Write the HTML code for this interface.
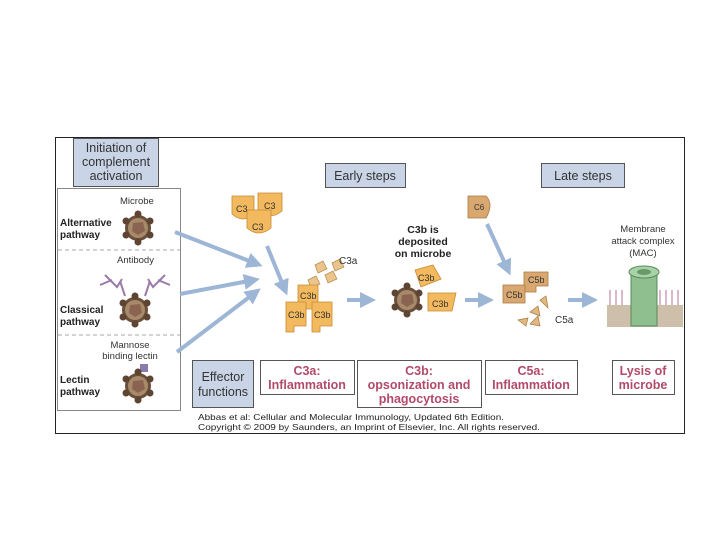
<!DOCTYPE html>
<html><head><style>
html,body{margin:0;padding:0;background:#fff;width:720px;height:540px;overflow:hidden}
svg{display:block}
text{font-family:"Liberation Sans",sans-serif}
</style></head><body>
<svg width="720" height="540" viewBox="0 0 720 540">
<defs>
<marker id="ah" markerWidth="4" markerHeight="4" refX="2.5" refY="2" orient="auto" markerUnits="strokeWidth">
<path d="M0,0 L4,2 L0,4 Z" fill="#9db6d6"/></marker>
<g id="mic"><circle r="13" fill="#6b4f3a"/>
<g fill="#5e4432"><circle cx="0" cy="-14" r="3.5"/><circle cx="12" cy="-7" r="3.5"/><circle cx="12" cy="7" r="3.5"/><circle cx="0" cy="14" r="3.5"/><circle cx="-12" cy="7" r="3.5"/><circle cx="-12" cy="-7" r="3.5"/></g>
<circle r="10" fill="#a68a6a"/><polygon points="-5,-5 5,-6 7,3 0,7 -6,3" fill="#8a6450"/></g>
<g id="frag"><path d="M0,0 l8,-4 l4,8 l-9,4z" fill="#e9c58d" stroke="#b88a4a" stroke-width="0.7"/></g>
</defs>
<rect x="55.5" y="137.5" width="629" height="296" fill="#fff" stroke="#222" stroke-width="1"/>
<rect x="57.5" y="188.5" width="123" height="222" fill="#fff" stroke="#888"/>
<line x1="58" y1="250" x2="180" y2="250" stroke="#aaa" stroke-dasharray="4,3"/>
<line x1="58" y1="335" x2="180" y2="335" stroke="#aaa" stroke-dasharray="4,3"/>
<rect x="73.5" y="138.5" width="85" height="48" fill="#c9d5e6" stroke="#555"/>
<text font-size="12.5" fill="#333" text-anchor="middle"><tspan x="116" y="152">Initiation of</tspan><tspan x="116" y="166">complement</tspan><tspan x="116" y="180">activation</tspan></text>
<text font-size="9.5" fill="#333" x="120" y="204">Microbe</text>
<text font-size="10" font-weight="bold" fill="#222"><tspan x="60" y="226">Alternative</tspan><tspan x="60" y="238">pathway</tspan></text>
<use href="#mic" x="138" y="228"/>
<text font-size="9.5" fill="#333" x="117" y="263">Antibody</text>
<g stroke="#9a7aa8" stroke-width="2" fill="none">
<path d="M105,275 l12,12 l5,-8 M100,285 l12,-5 M125,296 l-5,-15"/>
<path d="M165,275 l-12,12 l-5,-8 M170,285 l-12,-5 M145,296 l5,-15"/>
</g>
<use href="#mic" x="135" y="310"/>
<text font-size="10" font-weight="bold" fill="#222"><tspan x="60" y="313">Classical</tspan><tspan x="60" y="325">pathway</tspan></text>
<text font-size="9.5" fill="#333" text-anchor="middle"><tspan x="130" y="348">Mannose</tspan><tspan x="130" y="359">binding lectin</tspan></text>
<rect x="140" y="364" width="8" height="8" fill="#8a7ab0"/>
<use href="#mic" x="138" y="386"/>
<text font-size="10" font-weight="bold" fill="#222"><tspan x="60" y="383">Lectin</tspan><tspan x="60" y="395">pathway</tspan></text>
<rect x="325.5" y="163.5" width="80" height="24" fill="#c9d5e6" stroke="#555"/>
<text x="365" y="180" font-size="12.5" fill="#333" text-anchor="middle">Early steps</text>
<rect x="541.5" y="163.5" width="83" height="24" fill="#c9d5e6" stroke="#555"/>
<text x="583" y="180" font-size="12.5" fill="#333" text-anchor="middle">Late steps</text>
<g stroke="#9db6d6" stroke-width="4" fill="none" marker-end="url(#ah)">
<line x1="175" y1="232" x2="257" y2="264"/>
<line x1="180" y1="294" x2="254" y2="280"/>
<line x1="177" y1="352" x2="256" y2="292"/>
<line x1="267" y1="246" x2="285" y2="290"/>
<line x1="347" y1="300" x2="370" y2="300"/>
<line x1="465" y1="300" x2="488" y2="300"/>
<line x1="487" y1="224" x2="508" y2="270"/>
<line x1="568" y1="300" x2="592" y2="300"/>
</g>
<g fill="#f3b95f" stroke="#c88a30" stroke-width="0.8">
<path d="M232,196 h22 v18 q-11,10 -22,0z"/><path d="M258,193 h24 v18 q-12,10 -24,0z"/><path d="M247,210 h24 v18 q-12,10 -24,0z"/>
</g>
<text font-size="9" fill="#333"><tspan x="236" y="212">C3</tspan><tspan x="264" y="209">C3</tspan><tspan x="252" y="230">C3</tspan></text>
<use href="#frag" x="315" y="265"/><use href="#frag" x="325" y="275"/><use href="#frag" x="308" y="280"/><use href="#frag" x="332" y="263"/>
<text x="339" y="264" font-size="10" fill="#333">C3a</text>
<g fill="#f3b95f" stroke="#c88a30" stroke-width="0.8">
<path d="M298,285 h20 v24 h-12 v6 h-8z"/><path d="M286,302 h20 v24 h-12 v6 h-8z"/><path d="M312,302 h20 v24 h-12 v6 h-8z"/>
</g>
<text font-size="9" fill="#333"><tspan x="300" y="299">C3b</tspan><tspan x="288" y="318">C3b</tspan><tspan x="314" y="318">C3b</tspan></text>
<text font-size="10.5" font-weight="bold" fill="#222" text-anchor="middle"><tspan x="423" y="233">C3b is</tspan><tspan x="423" y="245">deposited</tspan><tspan x="423" y="257">on microbe</tspan></text>
<use href="#mic" x="407" y="300"/>
<g fill="#f3b95f" stroke="#c88a30" stroke-width="0.8">
<path d="M415,270 l18,-5 l8,14 l-20,8z"/><path d="M428,293 h28 l-4,18 h-24z"/>
</g>
<text font-size="9" fill="#333"><tspan x="418" y="281">C3b</tspan><tspan x="432" y="307">C3b</tspan></text>
<path d="M468,196 h18 q8,8 0,22 h-18z" fill="#d9a870" stroke="#a87a40" stroke-width="0.8"/>
<text x="474" y="210" font-size="8" fill="#333">C6</text>
<g fill="#d9a870" stroke="#a87a40" stroke-width="0.8">
<path d="M524,272 h24 v14 h-12 v6 h-12z"/><path d="M503,285 h22 v18 h-22z"/>
</g>
<text font-size="9" fill="#333"><tspan x="528" y="283">C5b</tspan><tspan x="506" y="298">C5b</tspan></text>
<g fill="#e0b880" stroke="#a87a40" stroke-width="0.7">
<path d="M530,312 l8,-6 l2,10z"/><path d="M540,300 l6,-4 l2,12z"/><path d="M518,320 l10,-2 l-2,8z"/><path d="M530,324 l8,-8 l2,10z"/>
</g>
<text x="555" y="323" font-size="10" fill="#333">C5a</text>
<text font-size="9.5" fill="#333" text-anchor="middle"><tspan x="643" y="232">Membrane</tspan><tspan x="643" y="244">attack complex</tspan><tspan x="643" y="256">(MAC)</tspan></text>
<rect x="607" y="305" width="76" height="22" fill="#cdbfaa"/>
<g stroke="#d9b8c8" stroke-width="2"><line x1="610" y1="290" x2="610" y2="305"/><line x1="616" y1="290" x2="616" y2="305"/><line x1="622" y1="290" x2="622" y2="305"/><line x1="660" y1="290" x2="660" y2="305"/><line x1="666" y1="290" x2="666" y2="305"/><line x1="672" y1="290" x2="672" y2="305"/><line x1="678" y1="290" x2="678" y2="305"/></g>
<rect x="631" y="272" width="26" height="54" fill="#8fbf8f" stroke="#5a8a5a"/>
<ellipse cx="644" cy="272" rx="15" ry="6" fill="#a8d2a8" stroke="#5a8a5a"/>
<ellipse cx="644" cy="272" rx="7" ry="3" fill="#6a9a6a"/>
<rect x="192.5" y="360.5" width="61" height="47" fill="#c9d5e6" stroke="#555"/>
<text font-size="12.5" fill="#333" text-anchor="middle"><tspan x="223" y="381">Effector</tspan><tspan x="223" y="396">functions</tspan></text>
<g fill="#fff" stroke="#555"><rect x="260.5" y="360.5" width="94" height="34"/><rect x="357.5" y="360.5" width="124" height="47"/><rect x="485.5" y="360.5" width="92" height="34"/><rect x="612.5" y="360.5" width="62" height="34"/></g>
<g font-size="12.5" font-weight="bold" fill="#b24a6a" text-anchor="middle">
<text><tspan x="307" y="375">C3a:</tspan><tspan x="307" y="389">Inflammation</tspan></text>
<text><tspan x="419" y="375">C3b:</tspan><tspan x="419" y="389">opsonization and</tspan><tspan x="419" y="403">phagocytosis</tspan></text>
<text><tspan x="531" y="375">C5a:</tspan><tspan x="531" y="389">Inflammation</tspan></text>
<text><tspan x="643" y="375">Lysis of</tspan><tspan x="643" y="389">microbe</tspan></text>
</g>
<text font-size="8.5" fill="#222" x="198" y="420" textLength="306" lengthAdjust="spacingAndGlyphs">Abbas et al: Cellular and Molecular Immunology, Updated 6th Edition.</text>
<text font-size="8.5" fill="#222" x="198" y="430" textLength="342" lengthAdjust="spacingAndGlyphs">Copyright © 2009 by Saunders, an Imprint of Elsevier, Inc. All rights reserved.</text>
</svg>
</body></html>
